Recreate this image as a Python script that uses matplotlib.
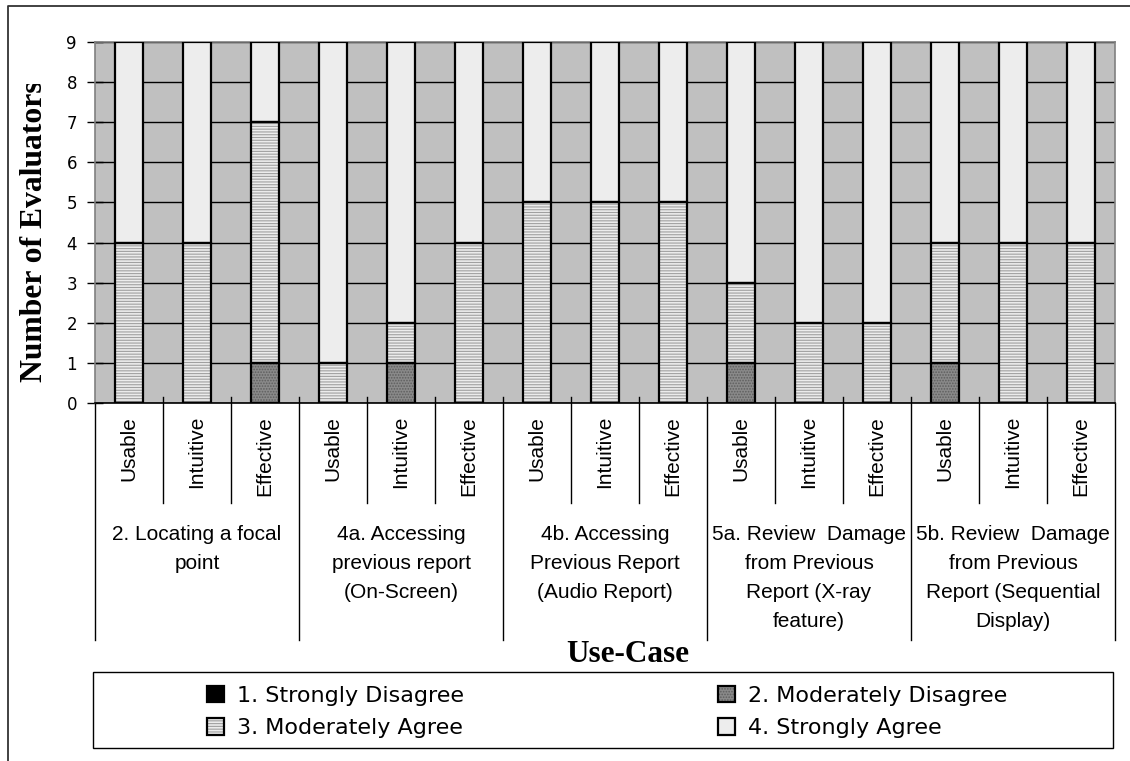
import matplotlib
matplotlib.use("Agg")
import matplotlib.pyplot as plt
from matplotlib.lines import Line2D
from matplotlib.patches import Rectangle
from matplotlib.transforms import Bbox, TransformedBbox
from matplotlib.legend_handler import HandlerTuple

# ---- data -------------------------------------------------------------
criteria = ["Usable", "Intuitive", "Effective"]
use_cases = [
    "2. Locating a focal\npoint",
    "4a. Accessing\nprevious report\n(On-Screen)",
    "4b. Accessing\nPrevious Report\n(Audio Report)",
    "5a. Review  Damage\nfrom Previous\nReport (X-ray\nfeature)",
    "5b. Review  Damage\nfrom Previous\nReport (Sequential\nDisplay)",
]
series_names = ["1. Strongly Disagree", "2. Moderately Disagree",
                "3. Moderately Agree", "4. Strongly Agree"]
strongly_disagree = [0, 0, 0, 0, 0, 0, 0, 0, 0, 0, 0, 0, 0, 0, 0]
moderately_disagree = [0, 0, 1, 0, 1, 0, 0, 0, 0, 1, 0, 0, 1, 0, 0]
moderately_agree = [4, 4, 6, 1, 1, 4, 5, 5, 5, 2, 2, 2, 3, 4, 4]
strongly_agree = [5, 5, 2, 8, 7, 5, 4, 4, 4, 6, 7, 7, 5, 5, 5]
y_ticks = [0, 1, 2, 3, 4, 5, 6, 7, 8, 9]

# ---- figure and axes --------------------------------------------------
W, H = 1130, 761
fig = plt.figure(figsize=(W / 100, H / 100), dpi=100)
fig.patch.set_facecolor("white")

def fx(px):
    return px / W

def fy(py):
    return 1 - py / H

ax_l, ax_r, ax_t, ax_b = 95, 1115, 42, 403
ax = fig.add_axes([fx(ax_l), fy(ax_b), fx(ax_r - ax_l), (ax_b - ax_t) / H])
ax.set_facecolor("#c0c0c0")

n = len(strongly_agree)
xs = list(range(n))
bar_w = 0.41

styles = [
    dict(face="#000000", hatch=None, hcolor="#000000"),
    dict(face="#8a8a8a", hatch="......", hcolor="#5e5e5e"),
    dict(face="#ececec", hatch="-" * 6, hcolor="#a0a0a0"),
    dict(face="#ededed", hatch=None, hcolor="#ededed"),
]
series = [strongly_disagree, moderately_disagree, moderately_agree, strongly_agree]

plt.rcParams["hatch.linewidth"] = 0.8
handles = []
bottom = [0] * n
for vals, st in zip(series, styles):
    # fill + pattern, then a black outline on top
    fill = ax.bar(xs, vals, bar_w, bottom=bottom, color=st["face"],
                  edgecolor=st["hcolor"], hatch=st["hatch"], linewidth=0,
                  zorder=2)
    edge = ax.bar(xs, vals, bar_w, bottom=bottom, facecolor="none",
                  edgecolor="black", linewidth=1.6, zorder=3)
    handles.append((fill, edge))
    bottom = [b + v for b, v in zip(bottom, vals)]

ax.set_xlim(-0.5, n - 0.5)
ax.set_ylim(0, 9)
ax.set_yticks(y_ticks)
ax.set_yticklabels([str(t) for t in y_ticks], fontsize=12, family="DejaVu Sans")
ax.yaxis.grid(True, color="black", linewidth=1.0, zorder=1)
ax.set_axisbelow(True)
ax.tick_params(axis="y", direction="inout", length=12, width=1, pad=7,
               colors="black")
ax.set_xticks([])
for side in ["top", "right", "left"]:
    ax.spines[side].set_color("#808080")
    ax.spines[side].set_linewidth(1.2)
ax.spines["bottom"].set_color("black")
ax.spines["bottom"].set_linewidth(1.2)

# ---- category axis: labels and separators -----------------------------
def ay(py):
    return (ax_b - py) / (ax_b - ax_t)

xt = ax.get_xaxis_transform()
for i in xs:
    ax.text(i, ay(416), criteria[i % 3], rotation=90, ha="center", va="top",
            fontsize=15, family="Liberation Sans", transform=xt)
for g, label in enumerate(use_cases):
    ax.text(3 * g + 1, ay(525), label, ha="center", va="top", fontsize=15,
            family="Liberation Sans", linespacing=1.66, transform=xt,
            multialignment="center")
for k in range(n + 1):
    x = k - 0.5
    y_top = ay(403) if k in (0, n) else ay(397)
    y_bot = ay(640) if k % 3 == 0 else ay(503)
    ax.add_line(Line2D([x, x], [y_top, y_bot], color="black", linewidth=1.0,
                       transform=xt, clip_on=False))

# ---- titles -----------------------------------------------------------
fig.text(fx(628), fy(655), "Use-Case", ha="center", va="center",
         fontsize=22.5, fontweight="bold", family="Liberation Serif")
ylab = fig.text(fx(35), fy(382), "Number of Evaluators", rotation=90,
                ha="center", va="bottom", fontsize=22.8, fontweight="bold",
                family="Liberation Serif")
ylab.set_clip_box(TransformedBbox(Bbox([[0, 0], [1, fy(84)]]), fig.transFigure))
ylab.set_clip_on(True)

# ---- legend -----------------------------------------------------------
order = [0, 2, 1, 3]
leg = fig.legend([handles[i] for i in order], [series_names[i] for i in order],
                 ncol=2, loc="center", bbox_to_anchor=(fx(607), fy(712)),
                 frameon=False, fontsize=16, handlelength=0.77,
                 handleheight=0.77, handletextpad=0.6, columnspacing=11.4,
                 labelspacing=0.55, borderpad=0,
                 handler_map={tuple: HandlerTuple(ndivide=1, pad=0)})
fig.add_artist(Rectangle((fx(93), fy(748)), fx(1113 - 93), (748 - 672) / H,
                         transform=fig.transFigure, fill=False,
                         edgecolor="black", linewidth=1.0))

# outer frame
fig.add_artist(Line2D([fx(8), fx(8), fx(1130)], [fy(761), fy(6), fy(6)],
                      transform=fig.transFigure, color="#333333",
                      linewidth=1.3))

fig.savefig("out.png", dpi=100)
